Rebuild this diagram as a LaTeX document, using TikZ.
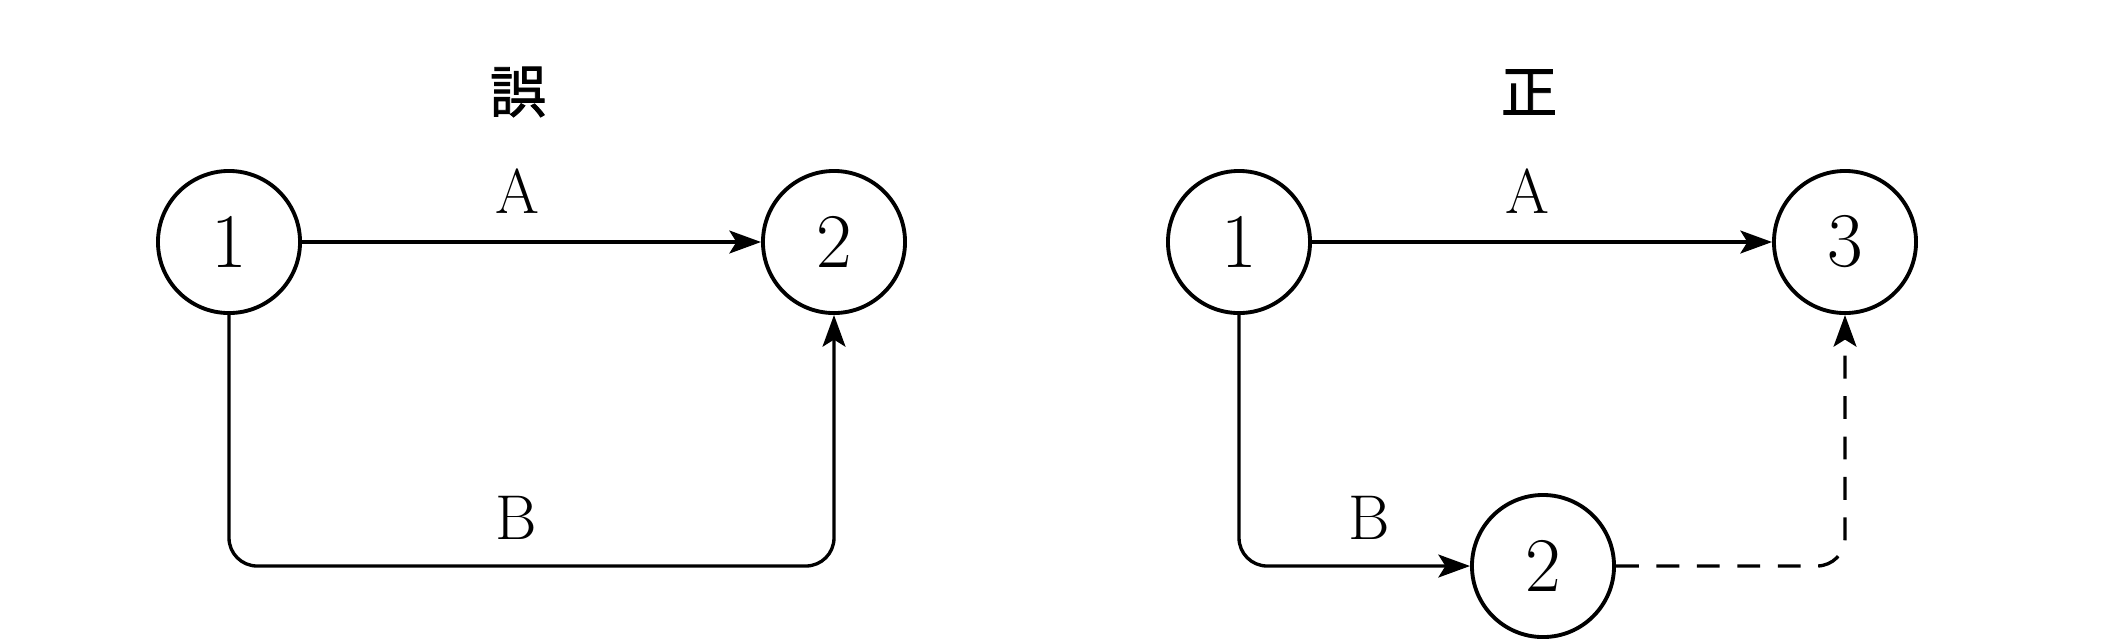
\documentclass[tikz,border=0pt]{standalone}
\usepackage{fontspec}
\newfontfamily\cjk[FakeBold=1.5]{Noto Sans CJK JP}
\usetikzlibrary{arrows.meta}
\begin{document}
\begin{tikzpicture}[x=0.01cm,y=-0.01cm,
  ev/.style={circle,draw,line width=1.1pt,minimum size=1.42cm,inner sep=0pt,font=\fontsize{22}{24}\selectfont},
  lbl/.style={font=\fontsize{18}{20}\selectfont,inner sep=0pt},
  ttl/.style={font=\cjk\fontsize{16}{18}\selectfont,inner sep=0pt},
  act/.style={line width=0.95pt,-{Stealth[length=9pt,width=6.5pt,inset=2pt]},rounded corners=8pt},
  dum/.style={act,dash pattern=on 6.5pt off 5pt}]
\useasboundingbox (0,0) rectangle (2112,641);
% left
\node[ttl] (t1) at (518,92) {誤};
\node[ev] (l1) at (229,242) {1};
\node[ev] (l2) at (834,242) {2};
\node[lbl] (la) at (517,191) {A};
\node[lbl] (lb) at (516,518) {B};
\coordinate (lc1) at (229,566);
\coordinate (lc2) at (834,566);
\draw[act] (l1) -- (l2);
\draw[act] (l1.south) -- (lc1) -- (lc2) -- (l2.south);
% right
\node[ttl] (t2) at (1529,92) {正};
\node[ev] (r1) at (1239,242) {1};
\node[ev] (r3) at (1845,242) {3};
\node[ev] (r2) at (1543,566) {2};
\node[lbl] (ra) at (1527,191) {A};
\node[lbl] (rb) at (1369,518) {B};
\coordinate (rc1) at (1239,566);
\coordinate (rc2) at (1845,566);
\draw[act] (r1) -- (r3);
\draw[act] (r1.south) -- (rc1) -- (r2.west);
\draw[dum] (r2.east) -- (rc2) -- (r3.south);
\end{tikzpicture}
\end{document}
